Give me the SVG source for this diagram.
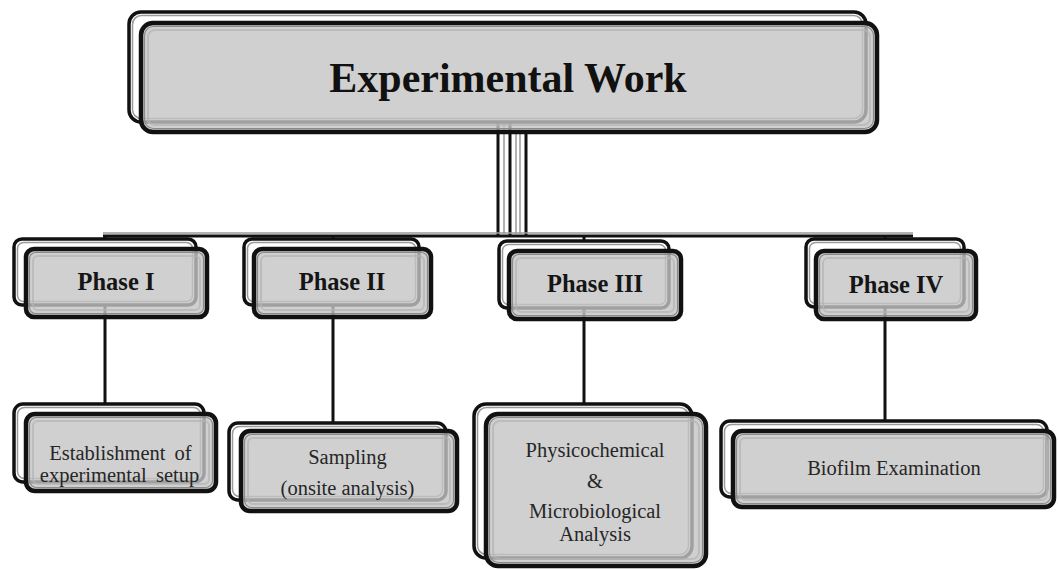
<svg xmlns="http://www.w3.org/2000/svg" width="1058" height="569" viewBox="0 0 1058 569">
<style>
.back{fill:#fff;stroke:#111;stroke-width:3.5}
.backin{fill:none;stroke:#9a9a9a;stroke-width:1.5}
.front{fill:#c4c4c4;fill-opacity:.8;stroke:#111;stroke-width:4.5}
.frontin{fill:none;stroke:#8a8a8a;stroke-width:1.2}
.bevel{fill:none;stroke:#b4b4b4;stroke-width:2;stroke-opacity:.7}
.ln{stroke:#111;stroke-width:3;fill:none}
.lg{stroke:#9a9a9a;stroke-width:1.5;fill:none}
.t1{font-family:"Liberation Serif",serif;font-weight:bold;font-size:42px;fill:#111;text-anchor:middle}
.t2{font-family:"Liberation Serif",serif;font-weight:bold;font-size:24.5px;fill:#151515;text-anchor:middle}
.t3{font-family:"Liberation Serif",serif;font-size:20.5px;fill:#262626;text-anchor:middle}
</style>
<rect width="1058" height="569" fill="#fff"/>
<g id="connectors">
  <line class="ln" x1="498" y1="120" x2="498" y2="236"/>
  <line class="lg" x1="504" y1="120" x2="504" y2="234"/>
  <line class="ln" x1="510" y1="120" x2="510" y2="236"/>
  <line class="lg" x1="516" y1="130" x2="516" y2="234"/>
  <line class="lg" x1="520" y1="130" x2="520" y2="234"/>
  <line class="ln" x1="526" y1="130" x2="526" y2="236"/>
  <line class="lg" x1="103" y1="233" x2="913" y2="233"/>
  <line class="ln" x1="103" y1="236" x2="913" y2="236"/>
  <line class="ln" x1="105" y1="236" x2="105" y2="404"/>
  <line class="ln" x1="333" y1="236" x2="333" y2="423"/>
  <line class="ln" x1="584" y1="236" x2="584" y2="404"/>
  <line class="ln" x1="885" y1="236" x2="885" y2="421"/>
</g>
<g id="top">
  <rect class="back" x="129" y="12" width="737" height="110" rx="12"/>
  <rect class="backin" x="132.5" y="15.5" width="730" height="103" rx="9"/>
  <rect class="front" x="141" y="23" width="736" height="109" rx="12"/>
  <rect class="frontin" x="144.5" y="26.5" width="729" height="102" rx="9"/>
  <rect class="bevel" x="148" y="30" width="722" height="95" rx="7"/>
  <text class="t1" x="508" y="92">Experimental Work</text>
</g>
<g id="phase1">
  <rect class="back" x="14" y="239" width="182" height="66" rx="8"/>
  <rect class="backin" x="17.5" y="242.5" width="175" height="59" rx="6"/>
  <rect class="front" x="26" y="249" width="181" height="68" rx="8"/>
  <rect class="frontin" x="29.5" y="252.5" width="174" height="61" rx="6"/>
  <rect class="bevel" x="33" y="256" width="167" height="54" rx="5"/>
  <text class="t2" x="116" y="290">Phase I</text>
</g>
<g id="phase2">
  <rect class="back" x="244" y="239" width="175" height="66" rx="8"/>
  <rect class="backin" x="247.5" y="242.5" width="168" height="59" rx="6"/>
  <rect class="front" x="254" y="249" width="177" height="68" rx="8"/>
  <rect class="frontin" x="257.5" y="252.5" width="170" height="61" rx="6"/>
  <rect class="bevel" x="261" y="256" width="163" height="54" rx="5"/>
  <text class="t2" x="342" y="290">Phase II</text>
</g>
<g id="phase3">
  <rect class="back" x="499" y="241" width="170" height="67" rx="8"/>
  <rect class="backin" x="502.5" y="244.5" width="163" height="60" rx="6"/>
  <rect class="front" x="509" y="251" width="172" height="68" rx="8"/>
  <rect class="frontin" x="512.5" y="254.5" width="165" height="61" rx="6"/>
  <rect class="bevel" x="516" y="258" width="158" height="54" rx="5"/>
  <text class="t2" x="595" y="292">Phase III</text>
</g>
<g id="phase4">
  <rect class="back" x="806" y="239" width="158" height="68" rx="8"/>
  <rect class="backin" x="809.5" y="242.5" width="151" height="61" rx="6"/>
  <rect class="front" x="816" y="251" width="160" height="68" rx="8"/>
  <rect class="frontin" x="819.5" y="254.5" width="153" height="61" rx="6"/>
  <rect class="bevel" x="823" y="258" width="146" height="54" rx="5"/>
  <text class="t2" x="896" y="293">Phase IV</text>
</g>
<g id="box1">
  <rect class="back" x="14" y="404" width="190" height="78" rx="9"/>
  <rect class="backin" x="17.5" y="407.5" width="183" height="71" rx="7"/>
  <rect class="front" x="26" y="414" width="190" height="77" rx="9"/>
  <rect class="frontin" x="29.5" y="417.5" width="183" height="70" rx="7"/>
  <rect class="bevel" x="33" y="421" width="176" height="63" rx="5"/>
  <text class="t3" x="120.5" y="460" word-spacing="4">Establishment of</text>
  <text class="t3" x="119.5" y="482" word-spacing="4">experimental setup</text>
</g>
<g id="box2">
  <rect class="back" x="229" y="423" width="217" height="77" rx="9"/>
  <rect class="backin" x="232.5" y="426.5" width="210" height="70" rx="7"/>
  <rect class="front" x="241" y="431" width="216" height="80" rx="9"/>
  <rect class="frontin" x="244.5" y="434.5" width="209" height="73" rx="7"/>
  <rect class="bevel" x="248" y="438" width="202" height="66" rx="5"/>
  <text class="t3" x="347.5" y="464">Sampling</text>
  <text class="t3" x="347.5" y="495">(onsite analysis)</text>
</g>
<g id="box3">
  <rect class="back" x="474" y="404" width="218" height="154" rx="12"/>
  <rect class="backin" x="477.5" y="407.5" width="211" height="147" rx="9"/>
  <rect class="front" x="486" y="414" width="220" height="152" rx="12"/>
  <rect class="frontin" x="489.5" y="417.5" width="213" height="145" rx="9"/>
  <rect class="bevel" x="493" y="421" width="206" height="138" rx="7"/>
  <text class="t3" x="595" y="457">Physicochemical</text>
  <text class="t3" x="595" y="488">&amp;</text>
  <text class="t3" x="595" y="518">Microbiological</text>
  <text class="t3" x="595" y="541">Analysis</text>
</g>
<g id="box4">
  <rect class="back" x="721" y="421" width="326" height="76" rx="9"/>
  <rect class="backin" x="724.5" y="424.5" width="319" height="69" rx="7"/>
  <rect class="front" x="733" y="431" width="321" height="76" rx="9"/>
  <rect class="frontin" x="736.5" y="434.5" width="314" height="69" rx="7"/>
  <rect class="bevel" x="740" y="438" width="307" height="62" rx="5"/>
  <text class="t3" x="894" y="475">Biofilm Examination</text>
</g>
</svg>
